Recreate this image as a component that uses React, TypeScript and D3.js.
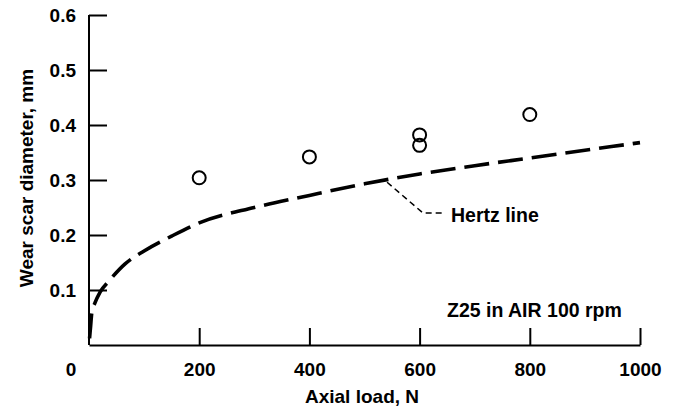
import * as d3 from "d3";
import { useEffect, useRef } from "react";

// measured wear scar points (axial load N, diameter mm)
const loads = [200, 400, 600, 600, 800];
const diameters = [0.304, 0.342, 0.382, 0.363, 0.419];

// Hertz line
const hertzLoads = [1, 3, 5, 11, 20, 36, 65, 100, 150, 200, 300, 400, 500, 600, 700, 800, 900, 1000];
const hertzDia = [0.012, 0.035, 0.058, 0.077, 0.096, 0.116, 0.147, 0.171, 0.198, 0.222, 0.25, 0.272, 0.293, 0.311, 0.326, 0.34, 0.354, 0.368];

const xTicks = [200, 400, 600, 800, 1000];
const yTicks = [0.1, 0.2, 0.3, 0.4, 0.5, 0.6];

const FONT = "'Liberation Sans', Arial, Helvetica, sans-serif";

export default function App() {
  const svgRef = useRef<SVGSVGElement>(null);

  useEffect(() => {
    const width = 681;
    const height = 412;
    const svg = d3.select(svgRef.current);
    svg.selectAll("*").remove();
    svg.attr("width", width).attr("height", height).attr("viewBox", `0 0 ${width} ${height}`);

    const x = d3.scaleLinear().domain([0, 1000]).range([89, 640]);
    const y = d3.scaleLinear().domain([0, 0.6]).range([345, 15]);

    svg.append("rect").attr("width", width).attr("height", height).attr("fill", "#fff");

    // Left axis, ticks pointing inward
    const yAxis = svg
      .append("g")
      .attr("transform", `translate(${x(0)},0)`)
      .call(
        d3
          .axisLeft(y)
          .tickValues(yTicks)
          .tickSizeInner(-18)
          .tickSizeOuter(0)
          .tickPadding(13)
          .tickFormat(d3.format(".1f"))
      );

    // Bottom axis, ticks pointing inward
    const xAxis = svg
      .append("g")
      .attr("transform", `translate(0,${y(0)})`)
      .call(
        d3
          .axisBottom(x)
          .tickValues(xTicks)
          .tickSizeInner(-17)
          .tickSizeOuter(0)
          .tickPadding(18)
          .tickFormat(d3.format("d"))
      );

    for (const ax of [xAxis, yAxis]) {
      ax.selectAll("path, line").attr("stroke", "#000").attr("stroke-width", 2);
      ax.selectAll("text")
        .attr("fill", "#000")
        .attr("font-family", FONT)
        .attr("font-size", 19)
        .attr("font-weight", "bold");
    }
    yAxis.select(".domain").attr("d", `M0,${y(0.6)}V${y(0)}`);

    // origin label
    svg
      .append("text")
      .attr("x", 71)
      .attr("y", 376)
      .attr("text-anchor", "middle")
      .attr("font-family", FONT)
      .attr("font-size", 19)
      .attr("font-weight", "bold")
      .text("0");

    // axis titles
    svg
      .append("text")
      .attr("transform", `translate(33,178) rotate(-90)`)
      .attr("text-anchor", "middle")
      .attr("font-family", FONT)
      .attr("font-size", 19)
      .attr("font-weight", "bold")
      .text("Wear scar diameter, mm");

    svg
      .append("text")
      .attr("x", 362)
      .attr("y", 403)
      .attr("text-anchor", "middle")
      .attr("font-family", FONT)
      .attr("font-size", 19)
      .attr("font-weight", "bold")
      .text("Axial load, N");

    // Hertz line
    const line = d3
      .line<number>()
      .x((_, i) => x(hertzLoads[i]))
      .y((d) => y(d))
      .curve(d3.curveMonotoneX);

    svg
      .append("path")
      .datum(hertzDia)
      .attr("d", line)
      .attr("fill", "none")
      .attr("stroke", "#000")
      .attr("stroke-width", 3.6)
      .attr("stroke-dasharray", "25 9");

    // leader to label
    const leader: [number, number][] = [
      [541, 0.296],
      [606, 0.24],
      [642, 0.24],
    ];
    svg
      .append("path")
      .attr("d", d3.line()(leader.map(([a, b]) => [x(a), y(b)])))
      .attr("fill", "none")
      .attr("stroke", "#000")
      .attr("stroke-width", 1.5)
      .attr("stroke-dasharray", "6 4");

    svg
      .append("text")
      .attr("x", 451)
      .attr("y", 222)
      .attr("font-family", FONT)
      .attr("font-size", 19.5)
      .attr("font-weight", "bold")
      .text("Hertz line");

    svg
      .append("text")
      .attr("x", 447)
      .attr("y", 317)
      .attr("font-family", FONT)
      .attr("font-size", 19.5)
      .attr("font-weight", "bold")
      .text("Z25 in AIR 100 rpm");

    // data points
    svg
      .append("g")
      .selectAll("circle")
      .data(loads)
      .join("circle")
      .attr("cx", (d) => x(d))
      .attr("cy", (_, i) => y(diameters[i]))
      .attr("r", 6.5)
      .attr("fill", "none")
      .attr("stroke", "#000")
      .attr("stroke-width", 2);
  }, []);

  return (
    <div style={{ position: "absolute", left: 0, top: 0 }}>
      <svg ref={svgRef} style={{ display: "block" }} />
    </div>
  );
}
